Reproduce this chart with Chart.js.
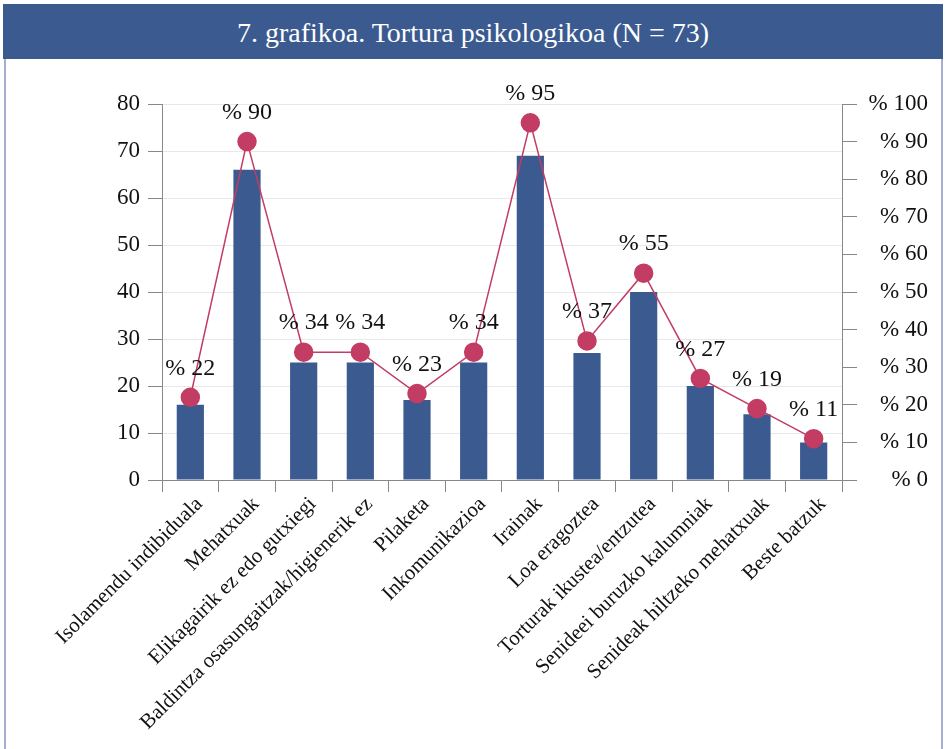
<!DOCTYPE html>
<html>
<head>
<meta charset="utf-8">
<script src="https://cdn.jsdelivr.net/npm/chart.js@4.4.1/dist/chart.umd.min.js"></script>
<style>
  body { margin: 0; background: #fff; }
  #wrap { position: relative; width: 946px; height: 749px; overflow: hidden; }
  #title {
    position: absolute; left: 3px; top: 4px; width: 940px; height: 55px;
    background: #3b5a8f; color: #fff; text-align: center;
    font-family: "Liberation Serif", serif; font-size: 28px; line-height: 57px;
  }
  #frameL { position: absolute; left: 4px; top: 59px; width: 2px; height: 690px; background: #a8aecf; }
  #frameR { position: absolute; left: 941px; top: 59px; width: 2px; height: 690px; background: #a8aecf; }
  #chart { position: absolute; left: 0; top: 0; }
</style>
</head>
<body>
<div id="wrap">
  <div id="title">7. grafikoa. Tortura psikologikoa (N = 73)</div>
  <div id="frameL"></div>
  <div id="frameR"></div>
  <canvas id="chart" width="946" height="749"></canvas>
</div>
<script>
// categories and values
const categories = [
  'Isolamendu indibiduala',
  'Mehatxuak',
  'Elikagairik ez edo gutxiegi',
  'Baldintza osasungaitzak/higienerik ez',
  'Pilaketa',
  'Inkomunikazioa',
  'Irainak',
  'Loa eragoztea',
  'Torturak ikustea/entzutea',
  'Senideei buruzko kalumniak',
  'Senideak hiltzeko mehatxuak',
  'Beste batzuk'
];
const counts = [16, 66, 25, 25, 17, 25, 69, 27, 40, 20, 14, 8];
const percents = [22, 90, 34, 34, 23, 34, 95, 37, 55, 27, 19, 11];

const serif = '"Liberation Serif", serif';

// draws "% nn" above every point of the line
const pointLabels = {
  id: 'pointLabels',
  afterDatasetsDraw(chart) {
    const ctx = chart.ctx;
    const meta = chart.getDatasetMeta(1);
    ctx.save();
    ctx.font = '24px ' + serif;
    ctx.fillStyle = '#111';
    ctx.textAlign = 'center';
    ctx.textBaseline = 'middle';
    meta.data.forEach((pt, i) => {
      ctx.fillText('% ' + percents[i], pt.x, pt.y - 29);
    });
    ctx.restore();
  }
};

new Chart(document.getElementById('chart'), {
  data: {
    labels: categories,
    datasets: [
      {
        type: 'bar',
        data: counts,
        backgroundColor: '#3b5a8f',
        barPercentage: 0.48,
        categoryPercentage: 1.0,
        yAxisID: 'y',
        order: 2
      },
      {
        type: 'line',
        data: percents,
        borderColor: '#c23c64',
        borderWidth: 1.5,
        pointBackgroundColor: '#c23c64',
        pointBorderColor: '#c23c64',
        pointRadius: 9,
        yAxisID: 'y1',
        order: 1
      }
    ]
  },
  options: {
    responsive: false,
    animation: false,
    layout: { padding: { top: 104, left: 0, right: 18, bottom: 0 } },
    plugins: { legend: { display: false }, tooltip: { enabled: false } },
    scales: {
      x: {
        offset: true,
        grid: { offset: true, drawOnChartArea: false, drawTicks: true, tickLength: 12, color: '#888' },
        border: { color: '#888' },
        ticks: {
          minRotation: 45, maxRotation: 45, autoSkip: false, padding: 0, labelOffset: 9,
          color: '#111', font: { family: serif, size: 21 }
        },
        afterFit(s) { s.height = 269; }
      },
      y: {
        position: 'left',
        min: 0, max: 80,
        ticks: { stepSize: 10, color: '#111', padding: 8, font: { family: serif, size: 23 } },
        grid: { color: '#e8e8e8', tickColor: '#888', tickLength: 14 },
        border: { color: '#888' },
        afterFit(s) { s.width = 162; }
      },
      y1: {
        position: 'right',
        min: 0, max: 100,
        ticks: {
          stepSize: 10, color: '#111', padding: 4, crossAlign: 'far',
          font: { family: serif, size: 23 },
          callback: v => '% ' + v
        },
        grid: { drawOnChartArea: false, color: '#888', tickLength: 15 },
        border: { color: '#888' },
        afterFit(s) { s.width = 86; }
      }
    }
  },
  plugins: [pointLabels]
});
</script>
</body>
</html>
